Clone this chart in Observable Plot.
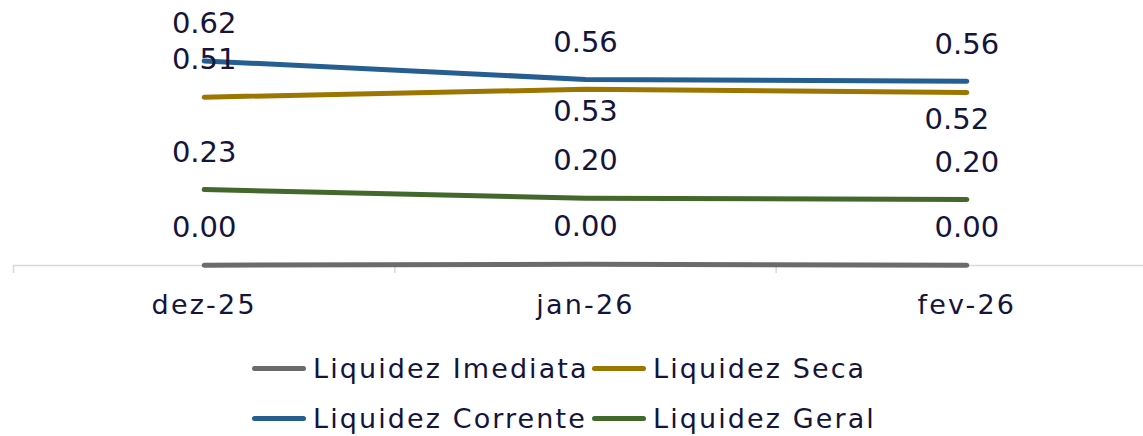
<!DOCTYPE html>
<html><head><meta charset="utf-8">
<script src="https://cdn.jsdelivr.net/npm/d3@7"></script>
<script src="https://cdn.jsdelivr.net/npm/@observablehq/plot@0.6"></script>
<style>
html,body{margin:0;padding:0;background:#fff;overflow:hidden;width:1143px;height:436px}
#chart svg{display:block;max-width:none}
#legend{font-family:"DejaVu Sans";font-size:27px;letter-spacing:2.1px;color:#14143c;position:relative;height:106px;width:1143px}
.item{position:absolute;display:flex;align-items:center;white-space:nowrap;height:40px;transform:translateY(-50%)}
.sw{width:54px;height:5px;border-radius:3px;margin-right:7px}
</style></head><body>
<div id="chart"></div>
<div id="legend"></div>
<script>
const categories = ["dez-25", "jan-26", "fev-26"];
const seriesNames = ["Liquidez Imediata", "Liquidez Seca", "Liquidez Corrente", "Liquidez Geral"];
const imediata = [0.001, 0.004, 0.001];
const seca = [0.51, 0.534, 0.524];
const corrente = [0.62, 0.564, 0.558];
const geral = [0.23, 0.204, 0.200];
const colors = ["#6b6b6b", "#9c7600", "#255e91", "#43682b"];

const seriesValues = [imediata, seca, corrente, geral];
const rows = [];
seriesNames.forEach((s, k) => seriesValues[k].forEach((v, i) => rows.push({series: s, i, cat: categories[i], value: v})));

// label placement (style config): default above; some Seca labels below
const labelOffsets = {
  "Liquidez Seca|jan-26": [0, 22],
  "Liquidez Seca|fev-26": [-10, 27]
};
const keyOf = d => d.series + "|" + d.cat;
const fmt = d3.format(".2f");
const textColor = "#14143c";

const labelMarks = [
  Plot.text(rows.filter(d => !labelOffsets[keyOf(d)]), {x: "i", y: "value", text: d => fmt(d.value), dy: -37, fontSize: 29, fill: textColor})
];
for (const [k, [dx, dy]] of Object.entries(labelOffsets)) {
  labelMarks.push(Plot.text(rows.filter(d => keyOf(d) === k), {x: "i", y: "value", text: d => fmt(d.value), dx, dy, fontSize: 29, fill: textColor}));
}

const bounds = d3.range(categories.length + 1).map(i => i - 0.5);

const chart = Plot.plot({
  width: 1157, height: 330,
  marginLeft: 13, marginRight: 0, marginTop: 1, marginBottom: 65,
  style: {fontFamily: "DejaVu Sans", color: textColor, background: "transparent", maxWidth: "none", overflow: "visible"},
  x: {type: "linear", domain: [-0.5, categories.length - 0.5], axis: null, label: null},
  y: {domain: [0, 0.8], axis: null, label: null},
  color: {domain: seriesNames, range: colors},
  marks: [
    Plot.ruleY([0], {stroke: "#d9d9d9", strokeWidth: 1.5}),
    Plot.axisX(bounds, {tickSize: 8, tickFormat: () => "", label: null, stroke: "#d9d9d9", strokeWidth: 1.5}),
    Plot.text(categories.map((c, i) => i), {x: d => d, y: 0, text: d => categories[d], dy: 40, fontSize: 27, fill: textColor}),
    Plot.line(rows, {x: "i", y: "value", z: "series", stroke: "series", strokeWidth: 5, strokeLinecap: "round", strokeLinejoin: "round"}),
    ...labelMarks
  ]
});
// widen the category labels slightly (first text mark)
d3.select(chart).select('g[aria-label="text"]').attr("letter-spacing", "2.2px");
document.getElementById("chart").appendChild(chart);

// legend
const legend = document.getElementById("legend");
const legendPos = [[252, 38], [592, 38], [252, 88], [592, 88]];
seriesNames.forEach((s, k) => {
  const it = document.createElement("div");
  it.className = "item";
  it.style.left = legendPos[k][0] + "px";
  it.style.top = legendPos[k][1] + "px";
  const sw = document.createElement("div");
  sw.className = "sw";
  sw.style.background = colors[k];
  const tx = document.createElement("span");
  tx.textContent = s;
  it.appendChild(sw); it.appendChild(tx);
  legend.appendChild(it);
});
</script>
</body></html>
